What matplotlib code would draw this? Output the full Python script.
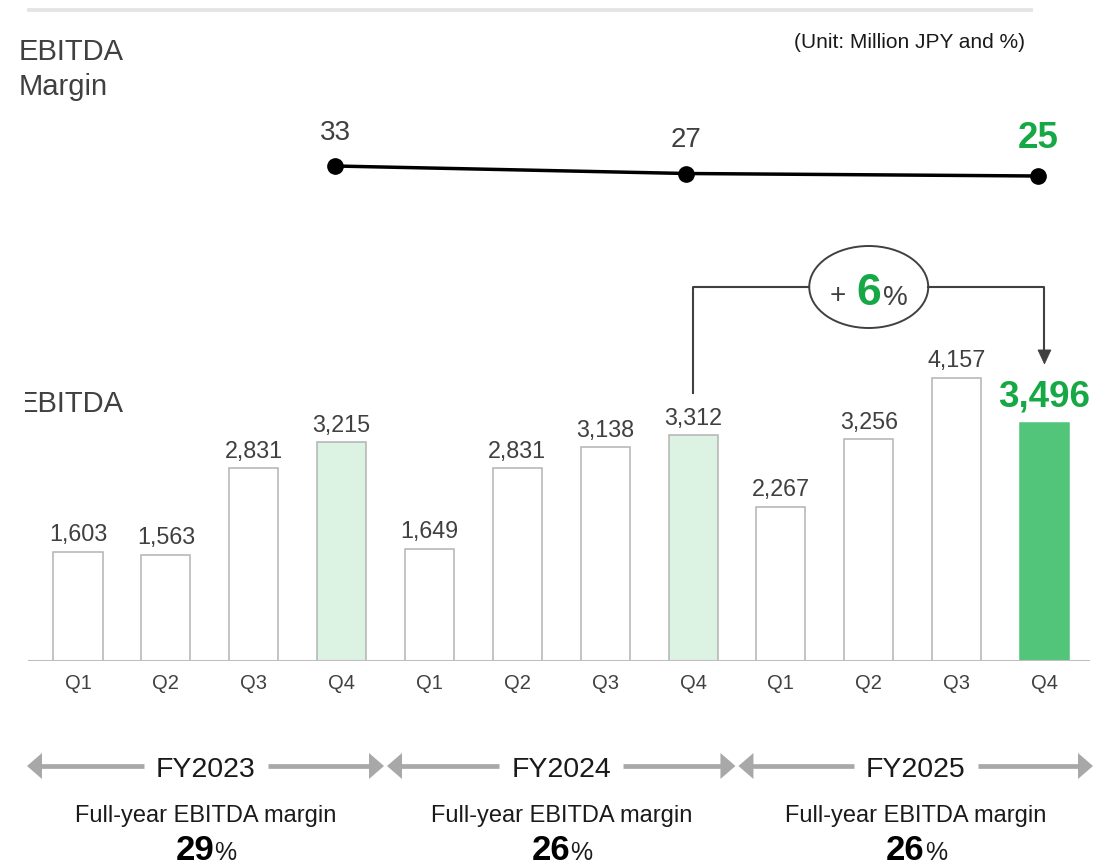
import matplotlib
matplotlib.use("Agg")
import matplotlib.pyplot as plt
from matplotlib.patches import Ellipse, Rectangle, Polygon

plt.rcParams['font.family'] = ['Liberation Sans', 'DejaVu Sans']

# ---- data -------------------------------------------------------------
quarters = ["Q1", "Q2", "Q3", "Q4"] * 3
fiscal_years = ["FY2023", "FY2024", "FY2025"]
ebitda = [1603, 1563, 2831, 3215, 1649, 2831, 3138, 3312, 2267, 3256, 4157, 3496]
q4_margin = [33, 27, 25]
full_year_margin = [29, 26, 26]
yoy_growth = 6

# ---- colours ----------------------------------------------------------
DARK = "#404040"
BLACK = "#1a1a1a"
GREEN_TXT = "#17a846"
GREEN_BAR = "#52c57a"
LIGHT_GREEN = "#dcf2e3"
EDGE = "#b3b3b3"
ARROW_GRAY = "#a8a8a8"

W, H = 1094, 867
fig = plt.figure(figsize=(W / 100, H / 100), dpi=100)

# ---- bar chart --------------------------------------------------------
BASE = 661          # pixel row of the bar baseline
AX_TOP = 230
PX_PER_UNIT = 0.0681
STEP = 87.86        # pixels between bar centres
FIRST = 78          # pixel x of the first bar centre
LEFT_PX, RIGHT_PX = 28, 1090

ax = fig.add_axes([LEFT_PX / W, (H - BASE) / H, (RIGHT_PX - LEFT_PX) / W, (BASE - AX_TOP) / H])
ax.set_facecolor("none")
ax.set_xlim((LEFT_PX - FIRST) / STEP, (RIGHT_PX - FIRST) / STEP)
ax.set_ylim(0, (BASE - AX_TOP) / PX_PER_UNIT)
for s in ax.spines.values():
    s.set_visible(False)
ax.set_xticks([])
ax.set_yticks([])

n = len(ebitda)
xs = list(range(n))
fills, edges = [], []
for i in xs:
    if i == n - 1:
        fills.append(GREEN_BAR); edges.append(GREEN_BAR)
    elif quarters[i] == "Q4":
        fills.append(LIGHT_GREEN); edges.append(EDGE)
    else:
        fills.append("white"); edges.append(EDGE)
ax.bar(xs, ebitda, width=0.558, color=fills, edgecolor=edges, linewidth=1.1, zorder=2)
ax.axhline(0, color="#bfbfbf", lw=1.5, zorder=3)

for i, v in enumerate(ebitda):
    if i == n - 1:
        ax.annotate(f"{v:,}", (i, v), xytext=(0, 11.5), textcoords="offset points",
                    ha="center", va="baseline", fontsize=26.5, fontweight="bold",
                    color=GREEN_TXT, annotation_clip=False)
    else:
        ax.annotate(f"{v:,}", (i, v), xytext=(0, 7.5), textcoords="offset points",
                    ha="center", va="baseline", fontsize=16.8, color=DARK,
                    annotation_clip=False)

q_y = -(689 - BASE) / (BASE - AX_TOP)
for i, q in enumerate(quarters):
    ax.text(i, q_y, q, transform=ax.get_xaxis_transform(), ha="center",
            va="baseline", fontsize=14.5, color=DARK)

# ---- margin line --------------------------------------------------------
LINE_TOP, LINE_BOT = 100, 250
lax = fig.add_axes([LEFT_PX / W, (H - LINE_BOT) / H, (RIGHT_PX - LEFT_PX) / W,
                    (LINE_BOT - LINE_TOP) / H])
lax.set_facecolor("none")
lax.set_xlim(ax.get_xlim())
lax.set_ylim(-34.2, 85.8)
lax.axis("off")
q4_idx = [i for i, q in enumerate(quarters) if q == "Q4"]
lx = [i - 0.075 for i in q4_idx]
lax.plot(lx, q4_margin, color="black", lw=2.5, marker="o", ms=11,
         mfc="black", mec="black", solid_capstyle="round")
for k, (x, v) in enumerate(zip(lx, q4_margin)):
    if k == len(q4_margin) - 1:
        lax.annotate(f"{v}", (x, v), xytext=(0, 20), textcoords="offset points",
                     ha="center", va="baseline", fontsize=26.5, fontweight="bold",
                     color=GREEN_TXT, annotation_clip=False)
    else:
        lax.annotate(f"{v}", (x, v), xytext=(0, 19), textcoords="offset points",
                     ha="center", va="baseline", fontsize=20, color=DARK,
                     annotation_clip=False)

# ---- overlay for labels and decorations (pixel coordinates) -------------
ov = fig.add_axes([0, 0, 1, 1])
ov.set_xlim(0, W)
ov.set_ylim(H, 0)
ov.axis("off")
ov.set_facecolor("none")
ov.set_zorder(10)


def bar_px(x, y=0.0):
    dx, dy = ax.transData.transform((x, y))
    return dx, H - dy


# top rule
ov.plot([27, 1033], [9.5, 9.5], color="#e4e4e4", lw=2.7, solid_capstyle="butt")

# titles
ov.text(19, 60, "EBITDA", fontsize=21, color=DARK, ha="left", va="baseline")
ov.text(19, 95, "Margin", fontsize=21, color=DARK, ha="left", va="baseline")
ov.text(1025, 48, "(Unit: Million JPY and %)", fontsize=15, color=BLACK,
        ha="right", va="baseline")
ov.text(19, 412, "EBITDA", fontsize=21, color=DARK, ha="left", va="baseline")
ov.add_patch(Rectangle((0, 385), 25, 34, facecolor="white", edgecolor="none", zorder=5))

# growth bracket from FY2024 Q4 to FY2025 Q4
x_a, top_a = bar_px(q4_idx[1], ebitda[q4_idx[1]])
x_b, top_b = bar_px(q4_idx[2], ebitda[q4_idx[2]])
y_br = 287
cx = (x_a + x_b) / 2
ew, eh = 119, 82
tip = top_b - 59
ov.plot([x_a, x_a, cx - ew / 2], [top_a - 42, y_br, y_br], color=DARK, lw=1.5)
ov.plot([cx + ew / 2, x_b, x_b], [y_br, y_br, tip - 13], color=DARK, lw=1.5)
ov.add_patch(Polygon([(x_b - 6.5, tip - 14), (x_b + 6.5, tip - 14), (x_b, tip)],
                     closed=True, facecolor=DARK, edgecolor=DARK, lw=0.5))
ov.add_patch(Ellipse((cx, y_br), ew, eh, facecolor="white", edgecolor=DARK, lw=1.4))
ov.text(cx - 31, 303, "+", fontsize=20, color=DARK, ha="center", va="baseline")
ov.text(cx, 305, f"{yoy_growth}", fontsize=32, fontweight="bold", color=GREEN_TXT,
        ha="center", va="baseline")
ov.text(cx + 14, 305, "%", fontsize=20, color=DARK, ha="left", va="baseline")

# fiscal-year spans with double arrows
b1, _ = bar_px(3.5)
b2, _ = bar_px(7.5)
spans = [(27, b1 - 1.5), (b1 + 1.5, b2 - 1.5), (b2 + 1.5, 1093)]
ARROW_Y = 766
HEAD_L, HEAD_H = 15, 13
for (x0, x1), fy, m in zip(spans, fiscal_years, full_year_margin):
    c = (x0 + x1) / 2
    ov.plot([x0 + HEAD_L - 1, c - 62], [ARROW_Y, ARROW_Y], color=ARROW_GRAY, lw=3.4,
            solid_capstyle="butt")
    ov.plot([c + 62, x1 - HEAD_L + 1], [ARROW_Y, ARROW_Y], color=ARROW_GRAY, lw=3.4,
            solid_capstyle="butt")
    ov.add_patch(Polygon([(x0, ARROW_Y), (x0 + HEAD_L, ARROW_Y - HEAD_H),
                          (x0 + HEAD_L, ARROW_Y + HEAD_H)], closed=True,
                         facecolor=ARROW_GRAY, edgecolor="none"))
    ov.add_patch(Polygon([(x1, ARROW_Y), (x1 - HEAD_L, ARROW_Y - HEAD_H),
                          (x1 - HEAD_L, ARROW_Y + HEAD_H)], closed=True,
                         facecolor=ARROW_GRAY, edgecolor="none"))
    ov.text(c, 777, fy, fontsize=20.5, color=BLACK, ha="center", va="baseline")
    ov.text(c, 822, "Full-year EBITDA margin", fontsize=17, color=BLACK,
            ha="center", va="baseline")
    ov.text(c + 9, 860, f"{m}", fontsize=25, fontweight="bold", color="black",
            ha="right", va="baseline")
    ov.text(c + 9, 860, "%", fontsize=18, color=BLACK, ha="left", va="baseline")

fig.savefig("out.png", dpi=100)
